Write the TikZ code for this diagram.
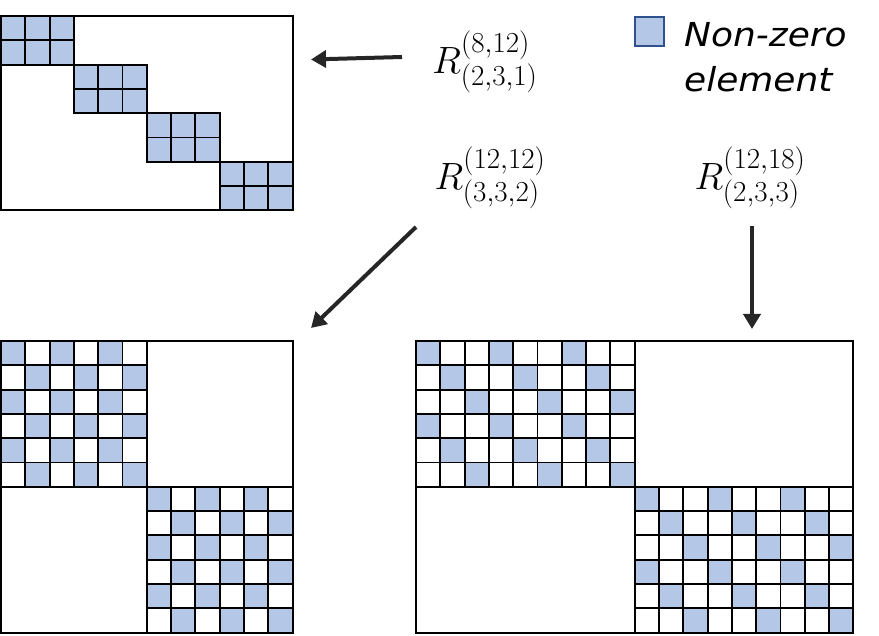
\RequirePackage{fix-cm}
\documentclass[tikz,border=0pt]{standalone}
\usepackage{amsmath}
\usepackage{fontspec}
\usetikzlibrary{calc, arrows.meta}
\newfontfamily\legendfont[FakeStretch=1.09]{DejaVu Sans}
\DeclareMathSizes{38}{38}{29}{22}

\definecolor{cellblue}{HTML}{B4C7E7}
\definecolor{edgeblue}{HTML}{2F528F}
\definecolor{arrowgray}{HTML}{262626}

\begin{document}
\begin{tikzpicture}[x=1pt, y=-1pt,
    grid/.style={line width=1.9pt, black},
    mapto/.style={line width=4pt, arrowgray, -{Triangle[length=15pt, width=17pt]}},
    lbl/.style={font=\fontsize{38}{40}\selectfont, inner sep=0pt}]
    \useasboundingbox (0,0) rectangle (879,636);
    \def\cs{24.3}
    % Top left: 8x12, full 2x3 blocks down the diagonal
    \draw[grid] (1,16) rectangle ++({12*\cs},{8*\cs});
    \foreach \b in {0,...,3} {
        \foreach \r in {0,1} {
            \foreach \c in {0,1,2} {
                \filldraw[grid, fill=cellblue] ({1+(3*\b+\c)*\cs},{16+(2*\b+\r)*\cs}) rectangle ++(\cs,\cs);
            }
        }
    }
    % Bottom left: 12x12, two 6x6 blocks, every second entry
    \draw[grid] (1,341) rectangle ++({12*\cs},{12*\cs});
    \foreach \b in {0,1} {
        \foreach \r in {0,...,5} {
            \foreach \c in {0,...,5} {
                \pgfmathtruncatemacro\on{mod(\r+\c,2)==0}
                \ifnum\on=1 \def\fc{cellblue}\else\def\fc{white}\fi
                \filldraw[grid, fill=\fc] ({1+(6*\b+\c)*\cs},{341+(6*\b+\r)*\cs}) rectangle ++(\cs,\cs);
            }
        }
    }
    % Bottom right: 12x18, two 6x9 blocks, every third entry
    \draw[grid] (416,341) rectangle ++({18*\cs},{12*\cs});
    \foreach \b in {0,1} {
        \foreach \r in {0,...,5} {
            \foreach \c in {0,...,8} {
                \pgfmathtruncatemacro\on{mod(\c+2*\r,3)==0}
                \ifnum\on=1 \def\fc{cellblue}\else\def\fc{white}\fi
                \filldraw[grid, fill=\fc] ({416+(9*\b+\c)*\cs},{341+(6*\b+\r)*\cs}) rectangle ++(\cs,\cs);
            }
        }
    }
    % Labels
    \node[lbl] (rtop) at (485,62) {$R^{(8,12)}_{(2,3,1)}$};
    \node[lbl] (rleft) at (490,178) {$R^{(12,12)}_{(3,3,2)}$};
    \node[lbl] (rright) at (750,178) {$R^{(12,18)}_{(2,3,3)}$};
    % Legend
    \node[draw=edgeblue, fill=cellblue, line width=2pt, minimum size=29pt, inner sep=0pt] (key) at (649,32) {};
    \node[anchor=base west, inner sep=0pt, font=\legendfont\itshape\fontsize{33}{40}\selectfont] (keyline1) at (684,47) {Non-zero};
    \node[anchor=base west, inner sep=0pt, font=\legendfont\itshape\fontsize{33}{40}\selectfont] (keyline2) at (684,92) {element};
    % Arrows to the matrices
    \coordinate (topfrom) at (402,57);
    \coordinate (topto) at (311,59.5);
    \coordinate (leftfrom) at (416,227);
    \coordinate (leftto) at (311,328);
    \coordinate (rightfrom) at (752,226);
    \coordinate (rightto) at (752,329);
    \draw[mapto] (topfrom) -- (topto);
    \draw[mapto] (leftfrom) -- (leftto);
    \draw[mapto] (rightfrom) -- (rightto);
\end{tikzpicture}
\end{document}
